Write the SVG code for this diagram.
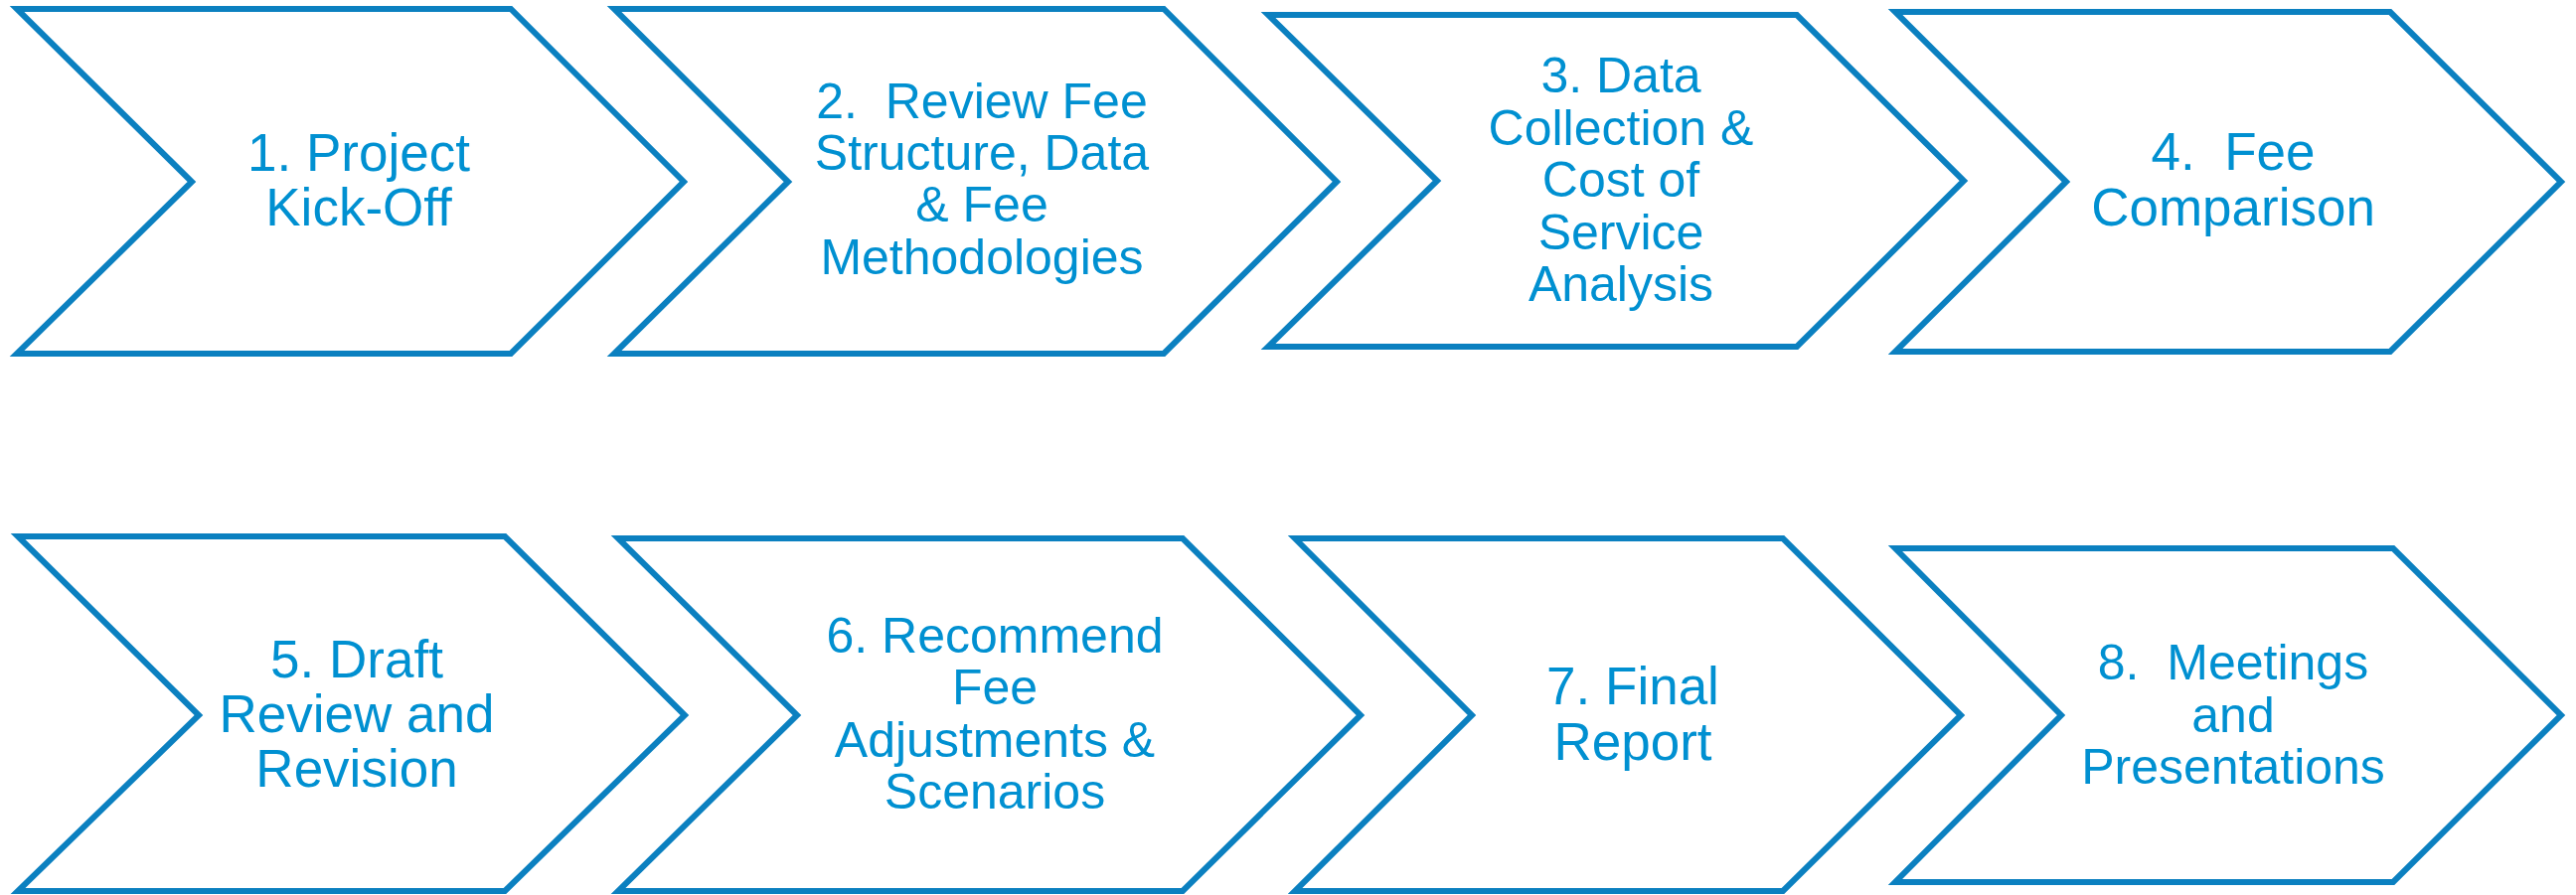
<svg xmlns="http://www.w3.org/2000/svg" width="2592" height="901" viewBox="0 0 2592 901">
<style>
.shape{fill:#FFFFFF;stroke:#0B80C0;stroke-width:6;stroke-linejoin:miter}
.lbl{font-family:"Liberation Sans",Arial,sans-serif;fill:#0090D1;text-anchor:middle;white-space:pre}
.big{font-size:53px}
.sm{font-size:50px}
</style>
<rect width="2592" height="901" fill="#FFFFFF"/>
<g id="connectors"></g>
<g id="node1">
<polygon class="shape" points="17,9 514,9 688,183 514,356 17,356 193,183"/>
<text class="lbl big" x="361" y="172">1. Project</text>
<text class="lbl big" x="361" y="227">Kick-Off</text>
</g>
<g id="node2">
<polygon class="shape" points="618,9 1171,9 1345,183 1171,356 618,356 793,183"/>
<text class="lbl sm" x="988" y="119">2.  Review Fee</text>
<text class="lbl sm" x="988" y="171">Structure, Data</text>
<text class="lbl sm" x="988" y="223">&amp; Fee</text>
<text class="lbl sm" x="988" y="276">Methodologies</text>
</g>
<g id="node3">
<polygon class="shape" points="1276,15 1808,15 1976,182 1808,349 1276,349 1446,182"/>
<text class="lbl sm" x="1631" y="93">3. Data</text>
<text class="lbl sm" x="1631" y="146">Collection &amp;</text>
<text class="lbl sm" x="1631" y="198">Cost of</text>
<text class="lbl sm" x="1631" y="251">Service</text>
<text class="lbl sm" x="1631" y="303">Analysis</text>
</g>
<g id="node4">
<polygon class="shape" points="1907,12 2405,12 2577,183 2405,354 1907,354 2079,183"/>
<text class="lbl big" x="2247" y="171">4.  Fee</text>
<text class="lbl big" x="2247" y="227">Comparison</text>
</g>
<g id="node5">
<polygon class="shape" points="18,540 508,540 689,720 508,897 18,897 200,720"/>
<text class="lbl big" x="359" y="682">5. Draft</text>
<text class="lbl big" x="359" y="737">Review and</text>
<text class="lbl big" x="359" y="792">Revision</text>
</g>
<g id="node6">
<polygon class="shape" points="622,542 1190,542 1369,720 1190,897 622,897 802,720"/>
<text class="lbl sm" x="1001" y="657">6. Recommend</text>
<text class="lbl sm" x="1001" y="709">Fee</text>
<text class="lbl sm" x="1001" y="762">Adjustments &amp;</text>
<text class="lbl sm" x="1001" y="814">Scenarios</text>
</g>
<g id="node7">
<polygon class="shape" points="1303,542 1794,542 1973,720 1794,897 1303,897 1481,720"/>
<text class="lbl big" x="1643" y="709">7. Final</text>
<text class="lbl big" x="1643" y="765">Report</text>
</g>
<g id="node8">
<polygon class="shape" points="1907,552 2408,552 2577,720 2408,888 1907,888 2074,720"/>
<text class="lbl sm" x="2247" y="684">8.  Meetings</text>
<text class="lbl sm" x="2247" y="737">and</text>
<text class="lbl sm" x="2247" y="789">Presentations</text>
</g>
</svg>
